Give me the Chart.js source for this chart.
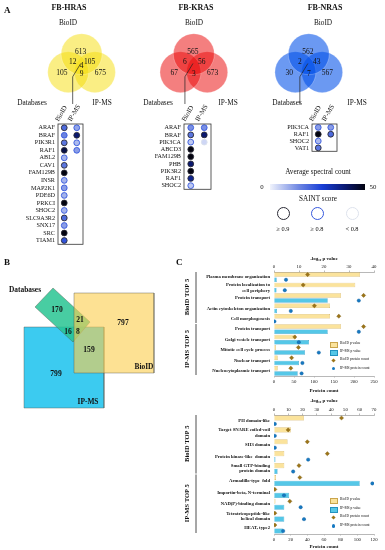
<!DOCTYPE html>
<html>
<head>
<meta charset="utf-8">
<script src="https://cdn.jsdelivr.net/npm/chart.js@4.4.0/dist/chart.umd.min.js"></script>
<style>
  body { margin: 0; background: #fff; }
  #fig { position: relative; width: 385px; height: 550px; overflow: hidden; font-family: "Liberation Serif", "Times New Roman", serif; color: #111; }
  #fig canvas { position: absolute; }
  .t { position: absolute; white-space: nowrap; transform: translate(-50%, -50%); line-height: 1; }
  .sw { position: absolute; }
</style>
</head>
<body>
<div id="fig"></div>
<script>
// ---- panel A : venn counts (BioID only, Databases only, IP-MS only, BioID&Db, BioID&IP, Db&IP, all)
const hrasVenn = [613, 105, 675, 12, 105, 9, 4];
const krasVenn = [565, 67, 673, 6, 56, 3, null];
const nrasVenn = [562, 30, 567, 2, 43, 7, null];

// ---- panel A : interactors, average spectral count and SAINT score
const hrasGenes = ['ARAF', 'BRAF', 'PIK3R1', 'RAF1', 'ABL2', 'CAV1', 'FAM129B', 'INSR', 'MAP2K1', 'PDE6D', 'PRKCI', 'SHOC2', 'SLC9A3R2', 'SNX17', 'SRC', 'TIAM1'];
const hrasBioid = [20, 16, 18, 44, 9, 18, 50, 9, 12, 9, 50, 9, 20, 12, 50, 24];
const hrasBioidSaint = [1, 0.85, 1, 1, 0.85, 1, 1, 0.85, 0.85, 0.85, 1, 0.85, 1, 0.85, 1, 1];
const hrasIp = [11, 40, 8, 12];
const hrasIpSaint = [0.85, 1, 0.85, 0.85];

const krasGenes = ['ARAF', 'BRAF', 'PIK3CA', 'ABCD3', 'FAM129B', 'PHB', 'PIK3R2', 'RAF1', 'SHOC2'];
const krasBioid = [14, 18, 6, 50, 50, 40, 50, 36, 6];
const krasBioidSaint = [0.85, 1, 0.85, 1, 1, 1, 1, 1, 0.85];
const krasIp = [14, 40, 4];
const krasIpSaint = [0.85, 1, 0.5];

const nrasGenes = ['PIK3CA', 'RAF1', 'SHOC2', 'VAT1'];
const nrasBioid = [12, 50, 8, 18];
const nrasBioidSaint = [0.85, 1, 0.85, 1];
const nrasIp = [12, 20];
const nrasIpSaint = [0.85, 1];

// ---- panel B : combined venn
const bCounts = [170, 21, 797, 16, 8, 159, 799]; // Db, Db&BioID, BioID, Db&IP, all, BioID&IP, IP

// ---- panel C : GO biological process
const bpTerms = [['Plasma membrane organization'], ['Protein localization to', 'cell periphery'], ['Protein transport'], ['Actin cytoskeleton organization'], ['Cell morphogenesis'],
  ['Protein transport'], ['Golgi vesicle transport'], ['Mitotic cell cycle process'], ['Nuclear transport'], ['Nucleocytoplasmic transport']];
const bpBioidP = [34.4, 32.5, 26.8, 22.4, 22.4, 26.8, 8.7, 0.8, 1.5, 1.5];
const bpIpP = [1.1, 1.0, 21.5, 1.2, null, 21.5, 14, 12.4, 10, 9.5];
const bpBioidN = [84, 73, 224, 101, 162, 224, 52, 61, 44, 42];
const bpIpN = [30, 27, 212, 42, 1, 212, 62, 112, 71, 69];

// ---- panel C : protein domains
const domTerms = [['PH domain-like'], ['Target SNARE coiled-coil', 'domain'], ['SH3 domain'], ['Protein kinase-like  domain'], ['Small GTP-binding', 'protein domain'],
  ['Armadillo-type  fold'], ['Importin-beta, N-terminal'], ['NAD(P)-binding domain'], ['Tetratricopeptide-like', 'helical domain'], ['HEAT, type2']];
const domBioidP = [21, 11.8, 9.5, 7.2, 7.2, 1.4, 0.3, 1, null, null];
const domIpP = [null, null, null, 1, 2.5, 60, 10.6, 7.2, 7.2, 6.5];
const domBioidN = [81, 17, 40, 64, 30, 31, 1, 19, 1, 1];
const domIpN = [1, 1, 1, 41, 23, 118, 12, 32, 36, 11];

const serif = "'Liberation Serif', 'Times New Roman', serif";

Chart.defaults.font.family = serif;
Chart.defaults.color = '#111';
Chart.defaults.animation = false;
Chart.defaults.events = [];
Chart.defaults.plugins.legend.display = false;
Chart.defaults.plugins.tooltip.enabled = false;

const fig = document.getElementById('fig');
function mkCanvas(l, t, w, h) {
  const c = document.createElement('canvas');
  c.width = w; c.height = h;
  c.style.left = l + 'px'; c.style.top = t + 'px';
  c.style.width = w + 'px'; c.style.height = h + 'px';
  fig.appendChild(c);
  return c;
}
function txt(s, x, y, size, bold, more) {
  const d = document.createElement('div');
  d.className = 't';
  d.innerHTML = s;
  d.style.left = x + 'px'; d.style.top = y + 'px';
  d.style.fontSize = size + 'px';
  if (bold) d.style.fontWeight = 'bold';
  if (more) Object.assign(d.style, more);
  fig.appendChild(d);
  return d;
}

// colour scale of the spectral counts
const specStops = [[0, [240, 243, 252]], [0.3, [112, 136, 226]], [0.55, [24, 62, 214]], [0.8, [10, 24, 110]], [1, [2, 3, 15]]];
function specColor(v) {
  const t = Math.min(1, Math.max(0, v / 50));
  for (let i = 1; i < specStops.length; i++) {
    if (t <= specStops[i][0]) {
      const a = specStops[i - 1], b = specStops[i];
      const f = (t - a[0]) / (b[0] - a[0]);
      return 'rgb(' + a[1].map((q, k) => Math.round(q + (b[1][k] - q) * f)).join(',') + ')';
    }
  }
  return 'rgb(2,3,15)';
}
function saintColor(s) {
  if (s >= 0.9) return '#2a2a35';
  if (s >= 0.8) return '#3658dc';
  return '#dde2ec';
}

// ================= panel A venns
const vennSets = [
  { cx: 68, counts: hrasVenn, rgb: '245,222,10', a: 0.5 },
  { cx: 194, counts: krasVenn, rgb: '234,10,10', a: 0.52 },
  { cx: 323, counts: nrasVenn, rgb: '0,80,232', a: 0.58 }
];
const circleOff = [[0, 50], [-15, 77], [15, 77]];
const numOff = [[-1, 47], [-22, 79], [21, 79], [-10, 62], [9, 62], [0, 80], [0, 68]];

const vennText = {
  id: 'vennText',
  afterDatasetsDraw(chart) {
    const { ctx, scales: { x, y } } = chart;
    ctx.save();
    ctx.font = '7.5px ' + serif;
    ctx.fillStyle = '#111';
    ctx.textAlign = 'center';
    ctx.textBaseline = 'middle';
    vennSets.forEach(v => {
      v.counts.forEach((n, i) => {
        if (n == null) return;
        ctx.fillText(n, x.getPixelForValue(v.cx + numOff[i][0]), y.getPixelForValue(numOff[i][1]));
      });
      // connector down to the table
      ctx.strokeStyle = '#222';
      ctx.lineWidth = 0.7;
      ctx.beginPath();
      ctx.moveTo(x.getPixelForValue(v.cx - 1), y.getPixelForValue(64));
      ctx.lineTo(x.getPixelForValue(v.cx - 10), y.getPixelForValue(84));
      ctx.lineTo(x.getPixelForValue(v.cx - 10), y.getPixelForValue(125));
      ctx.stroke();
    });
    ctx.restore();
  }
};

new Chart(mkCanvas(0, 0, 385, 125), {
  type: 'scatter',
  data: {
    datasets: vennSets.flatMap(v => circleOff.map(o => ({
      data: [{ x: v.cx + o[0], y: o[1] }],
      pointRadius: 20.5,
      backgroundColor: 'rgba(' + v.rgb + ',' + v.a + ')',
      borderColor: 'rgba(255,255,255,0.5)',
      borderWidth: 0.5
    })))
  },
  options: {
    responsive: false,
    layout: { padding: 0 },
    scales: {
      x: { type: 'linear', min: 0, max: 385, display: false },
      y: { type: 'linear', min: 0, max: 125, reverse: true, display: false }
    }
  },
  plugins: [vennText]
});

// ================= panel A tables
const boxPlugin = {
  id: 'box',
  afterDraw(chart) {
    const { ctx, chartArea: a } = chart;
    ctx.save();
    ctx.strokeStyle = '#333';
    ctx.lineWidth = 0.8;
    ctx.strokeRect(a.left, a.top, a.right - a.left, a.bottom - a.top);
    ctx.restore();
  }
};

function dotTable(areaLeft, areaW, genes, bio, bioS, ip, ipS) {
  const areaH = Math.round(genes.length * 7.72);
  const pts = [];
  genes.forEach((g, i) => {
    if (bio[i] != null) pts.push({ x: 'BioID', y: g, c: bio[i], s: bioS[i] });
    if (ip[i] != null) pts.push({ x: 'IP-MS', y: g, c: ip[i], s: ipS[i] });
  });
  return new Chart(mkCanvas(areaLeft - 52, 92, 52 + areaW + 16, 32 + areaH + 3), {
    type: 'scatter',
    data: {
      datasets: [{
        data: pts,
        pointRadius: 2.9,
        borderWidth: 0.9,
        backgroundColor: c => c.raw ? specColor(c.raw.c) : 'transparent',
        borderColor: c => c.raw ? saintColor(c.raw.s) : 'transparent'
      }]
    },
    options: {
      responsive: false,
      layout: { padding: { right: 16, bottom: 3, left: 0, top: 0 } },
      scales: {
        x: {
          type: 'category', labels: ['BioID', 'IP-MS'], position: 'top', offset: true,
          grid: { display: false, drawTicks: false }, border: { display: false },
          ticks: { autoSkip: false, minRotation: 60, maxRotation: 60, padding: 1, font: { size: 6.8 } },
          afterFit: s => { s.height = 32; }
        },
        y: {
          type: 'category', labels: genes, offset: true,
          grid: { display: false, drawTicks: false }, border: { display: false },
          ticks: { autoSkip: false, padding: 3, font: { size: 6.2 } },
          afterFit: s => { s.width = 52; }
        }
      }
    },
    plugins: [boxPlugin]
  });
}
dotTable(58, 25, hrasGenes, hrasBioid, hrasBioidSaint, hrasIp, hrasIpSaint);
dotTable(184, 27, krasGenes, krasBioid, krasBioidSaint, krasIp, krasIpSaint);
dotTable(312, 25, nrasGenes, nrasBioid, nrasBioidSaint, nrasIp, nrasIpSaint);

// ================= panel B
const bShapes = [
  { name: 'IP-MS', pts: [[24, 49], [104, 49], [104, 130], [24, 130], [24, 49]], fill: 'rgba(60,203,240,1)', order: 3 },
  { name: 'Databases', pts: [[53, 10], [90, 44], [73, 64], [35, 29], [53, 10]], fill: 'rgba(40,196,146,0.85)', order: 2 },
  { name: 'BioID', pts: [[74, 15], [154, 15], [154, 95], [74, 95], [74, 15]], fill: 'rgba(252,206,80,0.62)', order: 1 }
];
const bNumPos = [[57, 32], [80, 42], [123, 45], [68, 54], [78, 54], [89, 72], [56, 96]];
const bText = {
  id: 'bText',
  afterDatasetsDraw(chart) {
    const { ctx, scales: { x, y } } = chart;
    ctx.save();
    ctx.font = 'bold 7.6px ' + serif;
    ctx.fillStyle = '#111';
    ctx.textAlign = 'center';
    ctx.textBaseline = 'middle';
    bCounts.forEach((n, i) => ctx.fillText(n, x.getPixelForValue(bNumPos[i][0]), y.getPixelForValue(bNumPos[i][1])));
    ctx.restore();
  }
};
new Chart(mkCanvas(0, 278, 175, 135), {
  type: 'scatter',
  data: {
    datasets: bShapes.map(s => ({
      label: s.name,
      data: s.pts.map(p => ({ x: p[0], y: p[1] })),
      showLine: true, fill: 'shape', order: s.order,
      backgroundColor: s.fill, borderColor: 'rgba(90,90,80,0.7)', borderWidth: 0.6, pointRadius: 0
    }))
  },
  options: {
    responsive: false,
    layout: { padding: 0 },
    scales: {
      x: { type: 'linear', min: 0, max: 175, display: false },
      y: { type: 'linear', min: 0, max: 135, reverse: true, display: false }
    }
  },
  plugins: [bText]
});

// ================= panel C
const groupBracket = {
  id: 'groupBracket',
  afterDraw(chart) {
    const { ctx } = chart;
    const ys = chart.scales.y;
    const sub = (ys.bottom - ys.top) / 20;
    ctx.save();
    ctx.strokeStyle = '#222';
    ctx.lineWidth = 0.8;
    ctx.fillStyle = '#111';
    ctx.font = 'bold 6.5px ' + serif;
    ctx.textAlign = 'center';
    ctx.textBaseline = 'middle';
    [['BioID TOP 5', 0, 4], ['IP-MS TOP 5', 5, 9]].forEach(g => {
      const y0 = ys.getPixelForValue(g[1] * 2) - sub / 2 - 1;
      const y1 = ys.getPixelForValue(g[2] * 2 + 1) + sub / 2 - 1;
      ctx.beginPath();
      ctx.moveTo(18, y0 + 1);
      ctx.lineTo(18, y1);
      ctx.stroke();
      ctx.save();
      ctx.translate(9, (y0 + y1) / 2);
      ctx.rotate(-Math.PI / 2);
      ctx.fillText(g[0], 0, 0);
      ctx.restore();
    });
    ctx.restore();
  }
};

function goChart(top, height, topH, botH, terms, bioP, ipP, bioN, ipN, pMax, pStep, nMax, nStep) {
  const areaH = height - topH - botH;
  const subLabels = terms.flatMap((t, i) => ['a' + i, 'b' + i]);
  const up = a => a.flatMap(v => [v, null]);
  const down = a => a.flatMap(v => [null, v]);
  const tickFont = { size: 4.8 };
  return new Chart(mkCanvas(178, top, 207, height), {
    type: 'bar',
    data: {
      labels: subLabels,
      datasets: [
        { type: 'bar', label: 'BioID p value', data: up(bioP), xAxisID: 'p', indexAxis: 'y', grouped: false,
          backgroundColor: '#fbe39c', borderColor: '#caa54c', borderWidth: 0.5, barPercentage: 0.86, categoryPercentage: 1, order: 3 },
        { type: 'bar', label: 'IP-MS p value', data: down(ipP), xAxisID: 'p', indexAxis: 'y', grouped: false,
          backgroundColor: '#55c7e7', borderColor: '#2392c0', borderWidth: 0.5, barPercentage: 0.86, categoryPercentage: 1, order: 3 },
        { type: 'line', label: 'BioID protein count', data: up(bioN), xAxisID: 'n', indexAxis: 'y', showLine: false,
          pointStyle: 'rectRot', pointRadius: 2.1, backgroundColor: '#9c7418', borderColor: '#7a5a10', borderWidth: 0.4, order: 1 },
        { type: 'line', label: 'IP-MS protein count', data: down(ipN), xAxisID: 'n', indexAxis: 'y', showLine: false,
          pointStyle: 'circle', pointRadius: 1.7, backgroundColor: '#1679c2', borderColor: '#0f5e9c', borderWidth: 0.4, order: 1 }
      ]
    },
    options: {
      responsive: false,
      indexAxis: 'y',
      layout: { padding: { right: 11, left: 0, top: 0, bottom: 0 } },
      scales: {
        p: {
          axis: 'x', type: 'linear', position: 'top', min: 0, max: pMax,
          grid: { display: true, drawOnChartArea: false, drawTicks: true, tickLength: 1.5, color: '#777', lineWidth: 0.5 },
          border: { display: true, color: '#888', width: 0.6 },
          ticks: { stepSize: pStep, font: tickFont, padding: 1 },
          title: { display: true, text: '-log₁₀ p value', font: { size: 5, weight: 'bold' }, padding: { top: 0, bottom: 1 } },
          afterFit: s => { s.height = topH; }
        },
        n: {
          axis: 'x', type: 'linear', position: 'bottom', min: 0, max: nMax,
          grid: { display: true, drawOnChartArea: false, drawTicks: true, tickLength: 1.5, color: '#777', lineWidth: 0.5 },
          border: { display: true, color: '#888', width: 0.6 },
          ticks: { stepSize: nStep, font: tickFont, padding: 1 },
          title: { display: true, text: 'Protein count', font: { size: 5, weight: 'bold' }, padding: { top: 2, bottom: 0 } },
          afterFit: s => { s.height = botH; }
        },
        y: {
          type: 'category', offset: true,
          grid: { display: false, drawTicks: false }, border: { display: false },
          ticks: {
            autoSkip: false, padding: 4, labelOffset: areaH / 40,
            font: { size: 4.7, weight: 'bold', lineHeight: 1.15 },
            callback: (v, i) => i % 2 === 0 ? terms[i / 2] : ''
          },
          afterFit: s => { s.width = 96; }
        }
      }
    },
    plugins: [groupBracket]
  });
}
goChart(256, 138, 16, 18, bpTerms, bpBioidP, bpIpP, bpBioidN, bpIpN, 40, 10, 250, 50);
goChart(398, 152, 17, 16, domTerms, domBioidP, domIpP, domBioidN, domIpN, 70, 10, 120, 20);

// legends of panel C
function goLegend(y0, dy) {
  const items = [
    ['BioID p value', 'box', '#fbe39c', '#caa54c'],
    ['IP-MS p value', 'box', '#55c7e7', '#2392c0'],
    ['BioID protein count', 'diamond', '#9c7418'],
    ['IP-MS protein count', 'dot', '#1679c2']
  ];
  items.forEach((it, i) => {
    const y = y0 + i * dy;
    const s = document.createElement('div');
    s.className = 'sw';
    if (it[1] === 'box') {
      Object.assign(s.style, { left: '330px', top: (y - 2) + 'px', width: '6px', height: '4px', background: it[2], border: '0.5px solid ' + it[3] });
    } else if (it[1] === 'diamond') {
      Object.assign(s.style, { left: '332px', top: (y - 1.5) + 'px', width: '3px', height: '3px', background: it[2], transform: 'rotate(45deg)' });
    } else {
      Object.assign(s.style, { left: '331.5px', top: (y - 1.7) + 'px', width: '3.4px', height: '3.4px', background: it[2], borderRadius: '50%' });
    }
    fig.appendChild(s);
    txt(it[0], 340, y, 3.6, false, { transform: 'translate(0,-50%)' });
  });
}
goLegend(344, 8.2);
goLegend(500, 8.7);

// ================= static text
txt('A', 4, 10, 9, true, { transform: 'translate(0,-50%)' });
txt('B', 4, 262, 9, true, { transform: 'translate(0,-50%)' });
txt('C', 176, 262, 9, true, { transform: 'translate(0,-50%)' });
[['FB-HRAS', 69], ['FB-KRAS', 196], ['FB-NRAS', 325]].forEach(t => txt(t[0], t[1], 8, 8, true));
vennSets.forEach(v => {
  txt('BioID', v.cx, 23, 7.3);
  txt('Databases', v.cx - 36, 103, 7.3);
  txt('IP-MS', v.cx + 34, 103, 7.3);
});

// spectral count colour bar and SAINT legend
txt('Average spectral count', 318, 173, 7.2);
const bar = document.createElement('div');
bar.className = 'sw';
Object.assign(bar.style, {
  left: '270px', top: '184px', width: '95px', height: '6px',
  background: 'linear-gradient(to right,' + specStops.map(s => 'rgb(' + s[1].join(',') + ') ' + (s[0] * 100) + '%').join(',') + ')'
});
fig.appendChild(bar);
txt('0', 262, 187, 6.8);
txt('50', 373, 187, 6.8);
txt('SAINT score', 318, 200, 7.2);
[[1, 283, '≥ 0.9'], [0.85, 317, '≥ 0.8'], [0.5, 352, '< 0.8']].forEach(c => {
  const d = document.createElement('div');
  d.className = 'sw';
  Object.assign(d.style, { left: (c[1] - 6.5) + 'px', top: '206.5px', width: '13px', height: '13px', boxSizing: 'border-box', borderRadius: '50%', border: '1.4px solid ' + saintColor(c[0]) });
  fig.appendChild(d);
  txt(c[2], c[1], 229, 6.3);
});

// panel B set names
txt('Databases', 25, 290, 7.4, true);
txt('BioID', 144, 367, 7.4, true);
txt('IP-MS', 88, 402, 7.4, true);
</script>
</body>
</html>
